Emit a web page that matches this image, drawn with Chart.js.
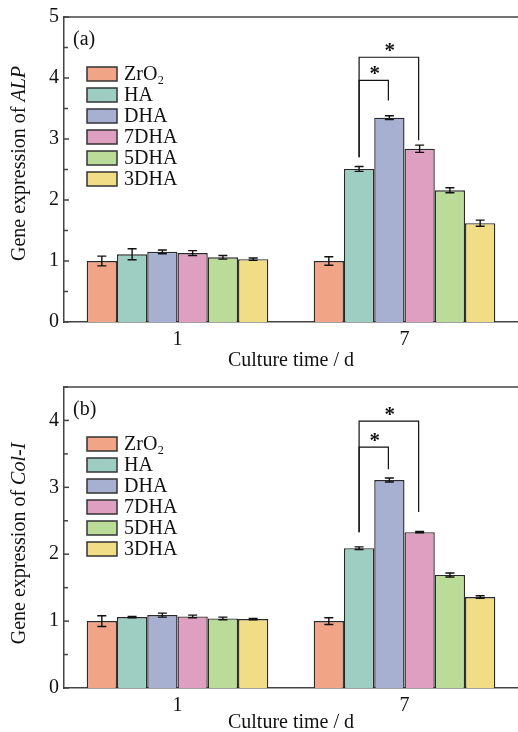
<!DOCTYPE html>
<html>
<head>
<meta charset="utf-8">
<script src="https://cdn.jsdelivr.net/npm/chart.js@4.4.0/dist/chart.umd.min.js"></script>
<style>
  body { margin: 0; background: #fff; }
  .panel { position: absolute; left: 0; width: 518px; }
</style>
</head>
<body>
<div class="panel" style="top:0;height:370px"><canvas id="alp" width="518" height="370"></canvas></div>
<div class="panel" style="top:370px;height:362px"><canvas id="col" width="518" height="362"></canvas></div>
<script>
// categories and groups
const days = ["1", "7"];
const groups = ["ZrO₂", "HA", "DHA", "7DHA", "5DHA", "3DHA"];
const colors = ["#F2A486", "#9ECEC2", "#A7B0D0", "#DF9FC0", "#BADC98", "#F1DD86"];

// (a) ALP, one entry per group: [day 1, day 7]
const alpMean = [[1.00, 1.00], [1.11, 2.51], [1.15, 3.35], [1.13, 2.84], [1.06, 2.16], [1.03, 1.62]];
const alpErr = [[0.08, 0.07], [0.09, 0.04], [0.03, 0.03], [0.04, 0.06], [0.03, 0.04], [0.02, 0.05]];
// brackets: [from group, to group, top, left leg end, right leg end]
const alpBrackets = [[1, 2, 3.96, 2.70, 3.63], [1, 3, 4.34, 2.70, 2.98]];

// (b) Col-I
const colMean = [[1.00, 1.00], [1.06, 2.09], [1.09, 3.11], [1.07, 2.33], [1.04, 1.69], [1.03, 1.36]];
const colErr = [[0.08, 0.05], [0.01, 0.02], [0.03, 0.03], [0.02, 0.01], [0.02, 0.03], [0.01, 0.02]];
const colBrackets = [[1, 2, 3.60, 2.33, 3.27], [1, 3, 3.99, 2.33, 2.63]];

const serif = "'Liberation Serif', 'Times New Roman', serif";
const axisColor = "#444";

function decorations(panelLabel, geneName, titleShift, errs, brackets) {
  return {
    id: "decor",
    afterDatasetsDraw(chart) {
      const ctx = chart.ctx;
      const area = chart.chartArea;
      const y = chart.scales.y;
      ctx.save();

      // top frame line
      ctx.strokeStyle = axisColor;
      ctx.lineWidth = 1.5;
      ctx.beginPath();
      ctx.moveTo(area.left, area.top);
      ctx.lineTo(chart.width, area.top);
      ctx.stroke();

      // inward ticks, major and minor
      for (let v = 0; v <= y.max + 1e-9; v += 0.5) {
        const py = y.getPixelForValue(v);
        const len = Number.isInteger(v) ? 5 : 4;
        ctx.beginPath();
        ctx.moveTo(area.left, py);
        ctx.lineTo(area.left + len, py);
        ctx.stroke();
      }

      // error bars
      ctx.strokeStyle = "#111";
      ctx.lineWidth = 1.4;
      chart.data.datasets.forEach((ds, i) => {
        chart.getDatasetMeta(i).data.forEach((bar, j) => {
          const m = ds.data[j], e = errs[i][j];
          const y1 = y.getPixelForValue(m - e), y2 = y.getPixelForValue(m + e);
          ctx.beginPath();
          ctx.moveTo(bar.x, y1); ctx.lineTo(bar.x, y2);
          ctx.moveTo(bar.x - 4.5, y1); ctx.lineTo(bar.x + 4.5, y1);
          ctx.moveTo(bar.x - 4.5, y2); ctx.lineTo(bar.x + 4.5, y2);
          ctx.stroke();
        });
      });

      // significance brackets on day 7
      ctx.lineWidth = 1.2;
      ctx.fillStyle = "#111";
      ctx.font = "bold 21px " + serif;
      ctx.textAlign = "center";
      ctx.textBaseline = "middle";
      brackets.forEach(b => {
        const xa = chart.getDatasetMeta(b[0]).data[1].x;
        const xb = chart.getDatasetMeta(b[1]).data[1].x - 1;
        const yt = y.getPixelForValue(b[2]);
        ctx.beginPath();
        ctx.moveTo(xa, y.getPixelForValue(b[3]));
        ctx.lineTo(xa, yt);
        ctx.lineTo(xb, yt);
        ctx.lineTo(xb, y.getPixelForValue(b[4]));
        ctx.stroke();
        ctx.fillText("*", (xa + xb) / 2 + 1, yt - 6);
      });

      // legend inside plot
      ctx.font = "20px " + serif;
      ctx.textAlign = "left";
      ctx.lineWidth = 1.5;
      ctx.strokeStyle = "#333";
      const lx = area.left + 23, ly0 = area.top + 57;
      chart.data.datasets.forEach((ds, i) => {
        const cy = ly0 + i * 21;
        ctx.fillStyle = ds.backgroundColor;
        ctx.fillRect(lx, cy - 7, 30, 14);
        ctx.strokeRect(lx, cy - 7, 30, 14);
        ctx.fillStyle = "#111";
        ctx.fillText(ds.label, lx + 37, cy + 1);
      });

      // panel label
      ctx.fillText(panelLabel, area.left + 9, area.top + 23);

      // y axis title with italic gene name
      const plain = "Gene expression of ";
      ctx.font = "20px " + serif;
      const w1 = ctx.measureText(plain).width;
      ctx.font = "italic 20px " + serif;
      const w2 = ctx.measureText(geneName).width;
      ctx.translate(20, (area.top + area.bottom) / 2 + titleShift);
      ctx.rotate(-Math.PI / 2);
      ctx.textBaseline = "middle";
      ctx.font = "20px " + serif;
      ctx.fillText(plain, -(w1 + w2) / 2, 0);
      ctx.font = "italic 20px " + serif;
      ctx.fillText(geneName, -(w1 + w2) / 2 + w1, 0);
      ctx.restore();
    }
  };
}

function makeChart(id, means, yMax, topPad, xHeight, panelLabel, geneName, titleShift, errs, brackets) {
  return new Chart(document.getElementById(id), {
    type: "bar",
    data: {
      labels: days,
      datasets: groups.map((g, i) => ({
        label: g,
        data: means[i].map(v => v),
        backgroundColor: colors[i],
        borderColor: "#2a2a2a",
        borderWidth: 1.4,
        borderSkipped: "bottom",
        categoryPercentage: 0.8,
        barPercentage: 1.0
      }))
    },
    options: {
      responsive: false,
      animation: false,
      layout: { padding: { top: topPad, right: 0, left: 0, bottom: 0 } },
      plugins: { legend: { display: false }, tooltip: { enabled: false } },
      scales: {
        x: {
          grid: { display: false, drawTicks: false },
          border: { color: axisColor, width: 1.5 },
          ticks: { color: "#111", font: { family: serif, size: 20 }, padding: 6 },
          title: { display: true, text: "Culture time / d", color: "#111", font: { family: serif, size: 20 }, padding: { top: 0, bottom: -3 } },
          afterFit(scale) { scale.height = xHeight; }
        },
        y: {
          min: 0,
          max: yMax,
          grid: { display: false, drawTicks: false },
          border: { color: axisColor, width: 1.5 },
          ticks: {
            stepSize: 1,
            color: "#111",
            padding: 5,
            font: { family: serif, size: 20 },
            callback: v => (Number.isInteger(v) ? v : "")
          },
          afterFit(scale) { scale.width = 64; }
        }
      }
    },
    plugins: [decorations(panelLabel, geneName, titleShift, errs, brackets)]
  });
}

makeChart("alp", alpMean, 5, 17, 48, "(a)", "ALP", -6, alpErr, alpBrackets);
makeChart("col", colMean, 4.5, 15, 44, "(b)", "Col-I", 6, colErr, colBrackets);
</script>
</body>
</html>
